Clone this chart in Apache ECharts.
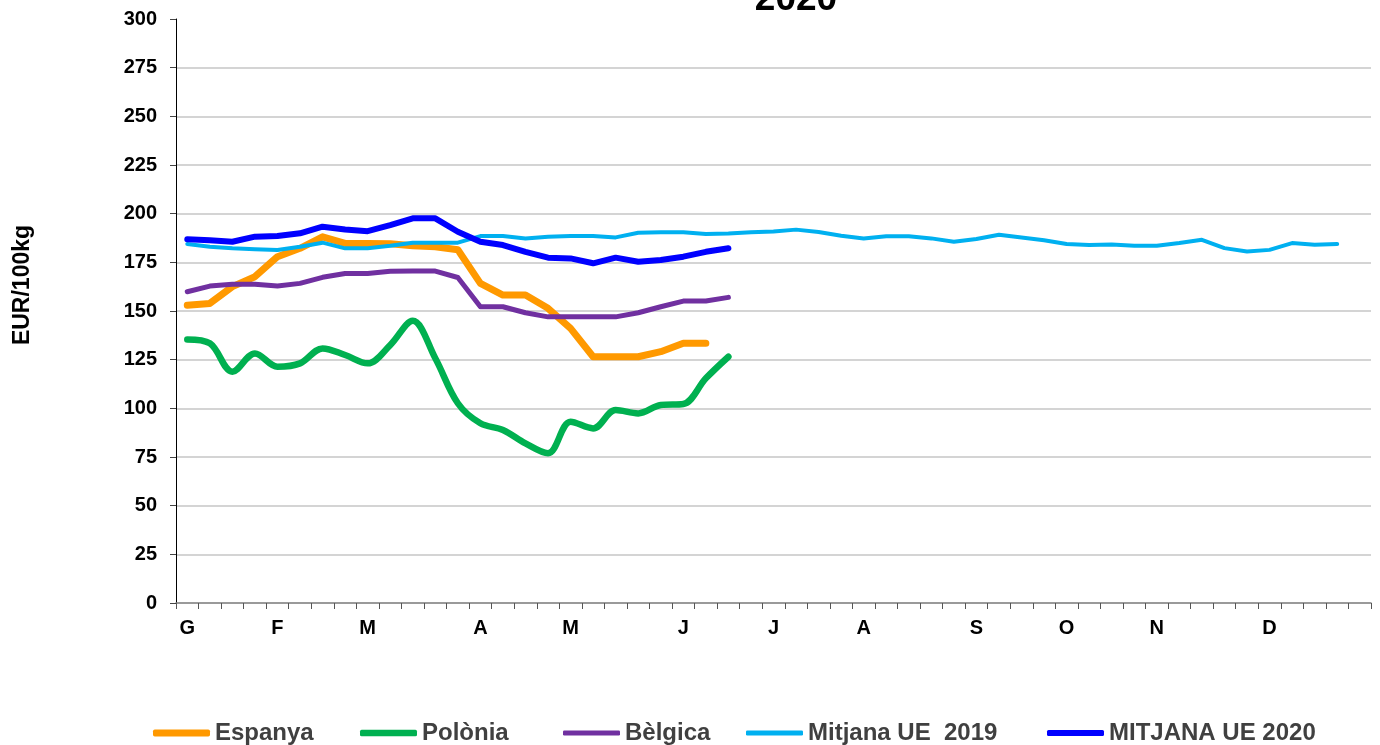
<!DOCTYPE html>
<html>
<head>
<meta charset="utf-8">
<title>2020</title>
<script src="https://cdn.jsdelivr.net/npm/echarts@6/dist/echarts.min.js"></script>
<style>
  html, body { margin: 0; padding: 0; background: #fff; }
  #chart { width: 1380px; height: 745px; }
</style>
</head>
<body>
<div id="chart"></div>
<script>
// setmanes de l'any, etiqueta de mes a la primera setmana
const weeks = [
  'G', '', '', '', 'F', '', '', '', 'M', '', '', '', '', 'A', '', '', '', 'M', '', '', '', '', 'J', '', '', '', 'J', '', '', '',
  'A', '', '', '', '', 'S', '', '', '', 'O', '', '', '', 'N', '', '', '', '', 'D', '', '', '', ''
]

const espanya = [153, 153.9, 162.5, 167.6, 177.9, 182.2, 188.1, 184.7, 184.7, 184.5, 183.5, 183, 181.5,
  164.2, 158.2, 158.2, 151.4, 141.1, 126.5, 126.5, 126.5, 129.1, 133.4, 133.4]

const polonia = [135.4, 133.4, 118.8, 128.2, 121.4, 123.1, 130.8, 127.4, 123.1, 132.5, 145, 125.7, 102.6,
  92.3, 88.9, 82, 76.9, 93.1, 89.7, 99.1, 97.4, 101.7, 102.2, 115.4, 126.5]

const belgica = [159.9, 162.8, 163.8, 163.8, 162.8, 164.2, 167.3, 169.3, 169.3, 170.4, 170.5, 170.5, 167.2,
  152.2, 152.2, 149.1, 147, 147, 147, 147, 149.1, 152.2, 155.1, 155.1, 157]

const mitjana2019 = [184.4, 183, 182.2, 181.7, 181.3, 183, 185.1, 182.2, 182.2, 183.5, 185.1, 185.1, 185.1,
  188.5, 188.5, 187.3, 188.1, 188.5, 188.5, 187.8, 190.2, 190.5, 190.5, 189.5, 189.8, 190.5,
  190.8, 191.8, 190.6, 188.7, 187.2, 188.4, 188.4, 187.3, 185.6, 187, 189.2, 187.8, 186.3,
  184.4, 183.9, 184.2, 183.5, 183.5, 184.9, 186.6, 182.3, 180.6, 181.4, 184.9, 184, 184.4]

const mitjana2020 = [186.8, 186.4, 185.6, 188.2, 188.5, 189.9, 193.3, 191.9, 191, 194.1, 197.6, 197.6, 190.7,
  185.6, 183.9, 180.4, 177.4, 177, 174.5, 177.4, 175.3, 176.2, 177.9, 180.4, 182.2]

const yTicks = [0, 300, 25]

const font = 'Liberation Sans, Arial, sans-serif'

function serie (name, data, color, width, smooth) {
    return {
        name: name,
        type: 'line',
        data: data,
        symbol: 'none',
        smooth: smooth || false,
        animation: false,
        lineStyle: { color: color, width: width, cap: 'round', join: 'round' },
        itemStyle: { color: color }
    }
}

// una llegenda per element, per poder col·locar-les com a l'original
function legendItem (name, left, color, width) {
    return {
        left: left,
        top: 721,
        padding: 0,
        itemWidth: 57,
        itemHeight: width,
        selectedMode: false,
        textStyle: { fontFamily: font, fontSize: 24, fontWeight: 'bold', color: '#404040' },
        data: [{ name: name, icon: 'roundRect', itemStyle: { color: color, borderWidth: 0 } }]
    }
}

// línies de la graella: sense línia a 300
const gridColors = []
for (let v = yTicks[0]; v < yTicks[1]; v += yTicks[2]) gridColors.push('#c6c6c6')
gridColors.push('rgba(0,0,0,0)')

const myChart = echarts.init(document.getElementById('chart'))

const option = {
    animation: false,
    backgroundColor: '#fff',
    textStyle: { fontFamily: font },
    graphic: [
        {
            type: 'text', x: 796, y: 0,
            style: { text: '2020', font: 'bold 37px ' + font, fill: '#000', textAlign: 'center', textVerticalAlign: 'middle' }
        },
        {
            type: 'text', x: 23, y: 285, rotation: Math.PI / 2,
            style: { text: 'EUR/100kg', font: 'bold 23px ' + font, fill: '#000', textAlign: 'center', textVerticalAlign: 'middle' }
        }
    ],
    grid: { left: 176, top: 19, width: 1195, height: 584, containLabel: false },
    xAxis: {
        type: 'category',
        data: weeks,
        boundaryGap: true,
        axisLine: { lineStyle: { color: '#868686', width: 1.5 } },
        axisTick: { show: true, interval: 0, length: 6, lineStyle: { color: '#555' } },
        axisLabel: { interval: 0, margin: 15, fontSize: 20, fontWeight: 'bold', color: '#000', fontFamily: font },
        splitLine: { show: false }
    },
    yAxis: {
        type: 'value',
        min: yTicks[0],
        max: yTicks[1],
        interval: yTicks[2],
        axisLine: { show: true, lineStyle: { color: '#000', width: 1 } },
        axisTick: { show: true, length: 6, lineStyle: { color: '#444' } },
        axisLabel: { margin: 19, fontSize: 20, fontWeight: 'bold', color: '#000', fontFamily: font },
        splitLine: { show: true, lineStyle: { color: gridColors, width: 1.5 } }
    },
    legend: [
        legendItem('Espanya', 153, '#FF9900', 7),
        legendItem('Polònia', 360, '#00B050', 6.5),
        legendItem('Bèlgica', 563, '#7030A0', 5),
        legendItem('Mitjana UE  2019', 746, '#00B0F0', 5),
        legendItem('MITJANA UE 2020', 1047, '#0000FF', 6)
    ],
    series: [
        serie('Espanya', espanya, '#FF9900', 7),
        serie('Polònia', polonia, '#00B050', 6.5, 0.35),
        serie('Bèlgica', belgica, '#7030A0', 5),
        serie('Mitjana UE  2019', mitjana2019, '#00B0F0', 4),
        serie('MITJANA UE 2020', mitjana2020, '#0000FF', 6)
    ]
}

option && myChart.setOption(option)
</script>
</body>
</html>
